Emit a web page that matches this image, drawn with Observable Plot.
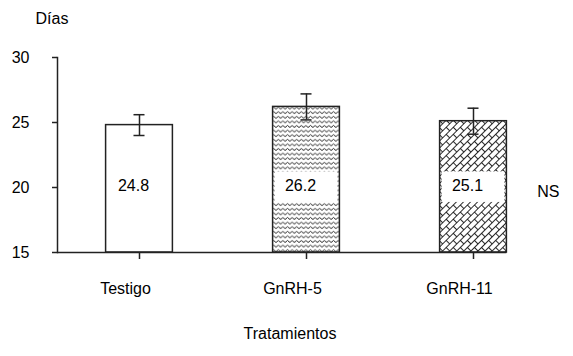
<!DOCTYPE html>
<html><head><meta charset="utf-8">
<script src="https://cdn.jsdelivr.net/npm/d3@7"></script>
<script src="https://cdn.jsdelivr.net/npm/@observablehq/plot@0.6"></script>
<style>body{margin:0;background:#fff;}</style>
</head><body><div id="chart"></div>
<script>
const categories = ["Testigo", "GnRH-5", "GnRH-11"];
const means = [24.8, 26.2, 25.1];
const errors = [0.8, 1.0, 1.0];
const valueLabels = ["24.8", "26.2", "25.1"];
const patterns = ["white", "url(#zigzag)", "url(#brick)"];
const yTicks = [15, 20, 25, 30];
const yTitle = "Días";
const xTitle = "Tratamientos";
const sigLabel = "NS";

// layout / style constants
const barHalf = 0.2, capHalf = 0.033;
const labelY = 20.1, labelBox = [18.85, 21.2];
const xDomain = [-0.491, 2.497];
const ink = "#222";

const data = categories.map((c, i) => ({i, c, m: means[i], e: errors[i], lab: valueLabels[i], fill: patterns[i]}));
const catIdx = categories.map((c, i) => i);

const svg = Plot.plot({
  width: 573, height: 356,
  marginLeft: 57, marginRight: 17, marginTop: 57, marginBottom: 104,
  style: {fontFamily: "'Liberation Sans', Arial, sans-serif", fontSize: "16px", color: "#000", background: "#fff"},
  x: {domain: xDomain},
  y: {domain: [yTicks[0], yTicks[yTicks.length - 1]]},
  color: {type: "identity"},
  marks: [
    Plot.rect(data, {x1: d => d.i - barHalf, x2: d => d.i + barHalf, y1: yTicks[0], y2: "m", fill: "fill", stroke: ink, strokeWidth: 1.5}),
    Plot.rect(data.filter(d => d.i > 0), {x1: d => d.i - barHalf, x2: d => d.i + barHalf, y1: labelBox[0], y2: labelBox[1], fill: "white", insetLeft: 2, insetRight: 2}),
    Plot.text(data, {x: "i", y: labelY, text: "lab", dx: -6, fill: "#000", fontSize: 16}),
    Plot.ruleX(data, {x: "i", y1: d => d.m - d.e, y2: d => d.m + d.e, stroke: ink, strokeWidth: 1.5}),
    Plot.ruleY(data, {y: d => d.m + d.e, x1: d => d.i - capHalf, x2: d => d.i + capHalf, stroke: ink, strokeWidth: 1.5}),
    Plot.ruleY(data, {y: d => d.m - d.e, x1: d => d.i - capHalf, x2: d => d.i + capHalf, stroke: ink, strokeWidth: 1.5}),
    Plot.frame({anchor: "left", stroke: ink, strokeWidth: 1.5}),
    Plot.ruleY([yTicks[0]], {x1: xDomain[0], x2: categories.length - 1 + barHalf, stroke: ink, strokeWidth: 1.5}),
    Plot.axisY({ticks: yTicks, tickSize: 5, tickPadding: 23, label: null, stroke: ink, strokeWidth: 1.5, fill: "#000"}),
    Plot.axisX({ticks: catIdx, tickFormat: () => "", tickSize: 7, label: null, stroke: ink, strokeWidth: 1.5}),
    Plot.axisX({ticks: catIdx, tickFormat: i => categories[i], tickSize: 0, tickPadding: 30, dx: -14, label: null, fill: "#000"}),
    Plot.text([yTitle], {frameAnchor: "top-left", textAnchor: "start", dx: -22, dy: -45, fill: "#000", fontSize: 16}),
    Plot.text([xTitle], {frameAnchor: "bottom", dx: -17, dy: 86, fill: "#000", fontSize: 16}),
    Plot.text([sigLabel], {y: 19.7, frameAnchor: "right", textAnchor: "end", dx: 3, fill: "#000", fontSize: 16})
  ]
});

svg.insertAdjacentHTML("afterbegin", `<defs>
  <pattern id="zigzag" patternUnits="userSpaceOnUse" width="4.6" height="4.6">
    <rect width="4.6" height="4.6" fill="white"/>
    <path d="M0,3.3 L2.3,1.3 L4.6,3.3" fill="none" stroke="#111" stroke-width="0.9"/>
  </pattern>
  <pattern id="brick" patternUnits="userSpaceOnUse" width="10" height="10" patternTransform="rotate(-45)">
    <rect width="10" height="10" fill="white"/>
    <path d="M0,0.5 H10 M0,5.5 H10 M0.5,0.5 V5.5 M5.5,5.5 V10.5" fill="none" stroke="#111" stroke-width="0.9"/>
  </pattern>
</defs>`);

document.getElementById("chart").appendChild(svg);
</script>
</body></html>
